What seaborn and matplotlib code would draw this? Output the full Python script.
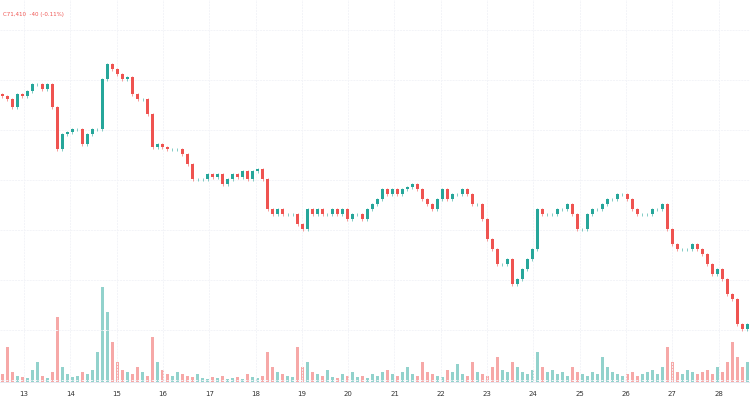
import numpy as np
import pandas as pd
import seaborn as sns
import matplotlib.pyplot as plt

closes = [97, 100, 108, 95, 97, 92, 85, 85, 90, 85, 108, 150, 135, 133, 130, 130, 145, 135, 130, 130,
          80, 65, 70, 75, 80, 78, 95, 100, 100, 115, 148, 145, 148, 150, 150, 150, 155, 165, 180, 180,
          180, 175, 178, 175, 185, 180, 175, 178, 172, 180, 172, 170, 180, 210, 215, 210, 215, 215, 215, 225,
          230, 210, 215, 210, 215, 215, 210, 215, 210, 220, 215, 215, 220, 210, 205, 200, 190, 195, 190, 195,
          190, 188, 185, 190, 200, 205, 210, 200, 190, 200, 195, 195, 190, 195, 205, 205, 220, 240, 250, 265,
          265, 260, 285, 280, 270, 260, 250, 210, 215, 215, 215, 210, 210, 205, 215, 230, 230, 215, 210, 210,
          205, 200, 200, 195, 195, 200, 210, 215, 215, 215, 210, 210, 205, 230, 245, 250, 250, 250, 245, 250,
          255, 265, 275, 270, 280, 295, 300, 325, 330, 325, 330, 340, 335]
closes = [71410 + (335 - y) * 10 for y in closes]
volumes = [8, 35, 10, 6, 5, 4, 12, 20, 6, 4, 10, 65, 15, 8, 5, 6, 10, 8, 12, 30,
           95, 70, 40, 20, 12, 10, 8, 15, 10, 6, 45, 20, 12, 8, 6, 10, 8, 6, 5, 8,
           4, 3, 5, 4, 6, 3, 4, 5, 3, 8, 5, 4, 6, 30, 15, 10, 8, 6, 5, 35,
           15, 20, 10, 8, 6, 12, 5, 4, 8, 6, 10, 5, 6, 4, 8, 6, 10, 12, 8, 6,
           10, 15, 8, 6, 20, 10, 8, 6, 5, 12, 10, 18, 8, 6, 20, 10, 8, 6, 15, 25,
           12, 10, 20, 15, 10, 8, 12, 30, 15, 10, 12, 8, 10, 6, 15, 10, 8, 6, 10, 8,
           25, 15, 10, 8, 6, 8, 10, 6, 8, 10, 12, 8, 15, 35, 20, 10, 8, 12, 10, 8,
           10, 12, 8, 15, 10, 20, 40, 25, 15, 20, 15, 45, 20]
start_day = 12.48
step_days = 5 / 46.3
tick_days = list(range(13, 29))

df = pd.DataFrame({"close": closes, "volume": volumes})
df["open"] = df["close"].shift(1).fillna(df["close"].iloc[0] + 20)
df["high"] = df[["open", "close"]].max(axis=1) + 15
df["low"] = df[["open", "close"]].min(axis=1) - 15
df["t"] = start_day + step_days * (np.arange(len(df)) + 0.5)
df["up"] = df["close"] >= df["open"]

sns.set_theme(style="white")
fig = plt.figure(figsize=(7.5, 4.1), dpi=100)
ax = fig.add_axes([0, 27 / 410, 1, 383 / 410])
vax = ax.twinx()

green, red = "#26a69a", "#ef5350"
colors = np.where(df["up"], green, red)

vax.bar(df["t"], df["volume"], width=step_days * 0.7, color=colors, alpha=0.5, linewidth=0)
vax.set_ylim(0, max(volumes) * 383 / 95)
vax.set_yticks([])

ax.vlines(df["t"], df["low"], df["high"], colors=colors, linewidth=0.5, alpha=0.8)
ax.bar(df["t"], (df["close"] - df["open"]).abs().clip(lower=4), bottom=df[["open", "close"]].min(axis=1),
       width=step_days * 0.5, color=colors, linewidth=0)
ax.set_zorder(vax.get_zorder() + 1)
ax.patch.set_visible(False)

ax.set_xlim(start_day, start_day + 750 / 46.3)
ax.set_ylim(71410 - 48 * 10, 71410 + 335 * 10)
ax.set_xticks(tick_days)
ax.set_xticklabels([str(d) for d in tick_days], fontsize=5, color="#333333")
ax.tick_params(axis="x", length=0, pad=6)
ax.set_yticks(np.arange(70950, 74800, 500))
ax.set_yticklabels([])
ax.tick_params(axis="y", length=0)
ax.grid(True, color="#f3f4f8", linewidth=0.7, linestyle=(0, (2, 1)))
for s in ax.spines.values():
    s.set_visible(False)
for s in vax.spines.values():
    s.set_visible(False)
ax.spines["bottom"].set_visible(True)
ax.spines["bottom"].set_color("#e0e3eb")
ax.spines["bottom"].set_linewidth(0.6)

fig.text(0.004, 0.965, "C71,410  -40 (-0.11%)", fontsize=4, color=red, va="center")

fig.savefig("out.png", dpi=100)
